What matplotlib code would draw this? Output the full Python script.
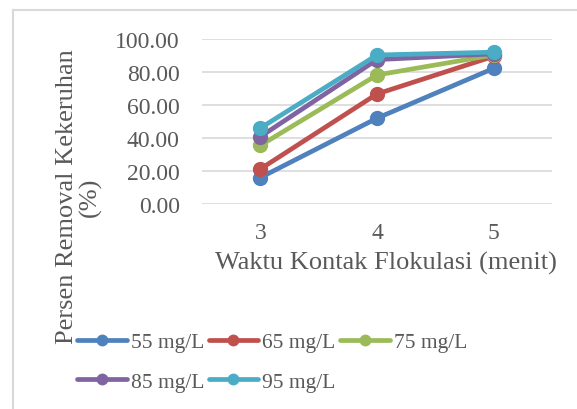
import matplotlib
matplotlib.use("Agg")
import matplotlib.pyplot as plt
from matplotlib.lines import Line2D

plt.rcParams['font.family'] = ['Liberation Serif', 'DejaVu Serif']

categories = ["3", "4", "5"]
series_names = ["55 mg/L", "65 mg/L", "75 mg/L", "85 mg/L", "95 mg/L"]
s55 = [16.0, 52.0, 82.2]
s65 = [21.2, 66.7, 89.5]
s75 = [35.5, 78.2, 90.3]
s85 = [40.8, 87.5, 91.0]
s95 = [46.0, 90.3, 92.0]
series_values = [s55, s65, s75, s85, s95]
colors = ["#4F81BD", "#C0504D", "#9BBB59", "#8064A2", "#4BACC6"]
yticks = [0, 20, 40, 60, 80, 100]

W, H = 577, 410
fig = plt.figure(figsize=(W / 100, H / 100), dpi=100)
ax = fig.add_axes([202 / W, 1 - 205 / H, 350 / W, 165 / H])

xs = list(range(len(categories)))
lines = []
for name, vals, c in zip(series_names, series_values, colors):
    ln, = ax.plot(xs, vals, color=c, lw=3.4, marker='o', markersize=10,
                  solid_capstyle='round', label=name)
    lines.append(ln)

ax.set_xlim(-0.5, len(categories) - 0.5)
ax.set_ylim(0, 100)
ax.set_yticks(yticks)
ax.set_yticklabels([f"{v:.2f}" for v in yticks])
ax.set_xticks(xs)
ax.set_xticklabels(categories)
ax.grid(axis='y', color='#D9D9D9', lw=1.2)
ax.set_axisbelow(True)
for s in ax.spines.values():
    s.set_visible(False)
ax.tick_params(length=0, colors='#595959', labelsize=17)
ax.tick_params(axis='y', pad=16)
ax.tick_params(axis='x', pad=13)

fig.text(386 / W, 1 - 263 / H, "Waktu Kontak Flokulasi (menit)", ha='center',
         va='center', fontsize=19, color='#595959')
fig.text(79 / W, 1 - 197 / H, "Persen Removal Kekeruhan\n(%)", ha='center',
         va='center', rotation=90, multialignment='center', fontsize=19,
         color='#595959', linespacing=1.0)

order = [0, 3, 1, 4, 2]
fig.legend([lines[i] for i in order], [series_names[i] for i in order],
           loc='upper left', bbox_to_anchor=(77 / W, 1 - 333 / H), ncol=3,
           frameon=False, fontsize=15.5, handlelength=2.3, handletextpad=0.2,
           columnspacing=0.2, borderpad=0, borderaxespad=0, labelspacing=0.9,
           markerscale=0.75, labelcolor='#595959')

fig.add_artist(Line2D([13 / W, 1], [1 - 11 / H, 1 - 11 / H], color='#D9D9D9', lw=1.5))
fig.add_artist(Line2D([13 / W, 13 / W], [0, 1 - 11 / H], color='#D9D9D9', lw=1.5))

fig.savefig("out.png", dpi=100, facecolor='white')
